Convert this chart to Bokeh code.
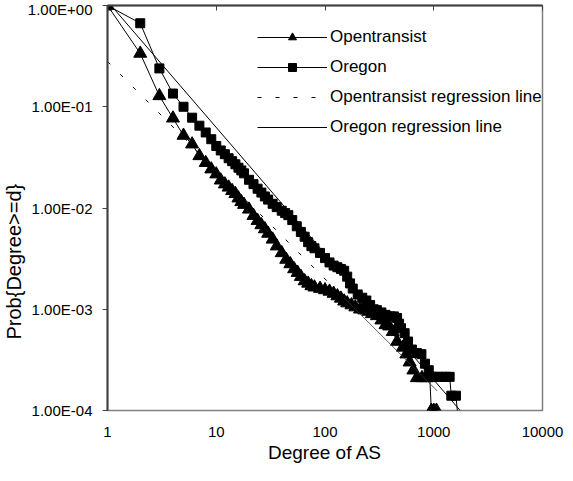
from bokeh.plotting import figure
from bokeh.models import LogAxis, FixedTicker, Legend, LegendItem, Title
from bokeh.embed import file_html
from bokeh.resources import INLINE

# ---------------- data ----------------
ot_deg = [1, 2, 3, 4, 5, 6, 7, 8, 9, 10, 11, 12, 13, 14, 15, 16, 17, 18, 20, 22,
          24, 26, 28, 30, 33, 36, 40, 44, 48, 52, 56, 60, 65, 70, 75, 80, 90, 100,
          110, 120, 130, 140, 150, 160, 175, 190, 210, 230, 250, 270, 300, 330,
          360, 390, 420, 460, 520, 560, 600, 650, 700, 780, 850, 920, 950, 1000, 1060]
ot_prob = [1.0, 0.336, 0.128, 0.077, 0.052, 0.0427, 0.0327, 0.028, 0.0242, 0.0216,
           0.0188, 0.0172, 0.016, 0.0148, 0.0138, 0.0125, 0.0115, 0.0108, 0.0097,
           0.0084, 0.0075, 0.0068, 0.0062, 0.0056, 0.0049, 0.0042, 0.0036, 0.0031,
           0.0028, 0.0025, 0.0023, 0.0021, 0.0019, 0.0018, 0.0017, 0.00165, 0.0016,
           0.00155, 0.0015, 0.00143, 0.00135, 0.00128, 0.0012, 0.00115, 0.0011,
           0.00105, 0.001, 0.00098, 0.00095, 0.0009, 0.00086, 0.00078, 0.0007,
           0.00068, 0.0006, 0.00048, 0.00042, 0.00036, 0.0003, 0.00025, 0.00021,
           0.00021, 0.00021, 0.00021, 0.0001, 0.0001, 0.0001]

or_deg = [1, 2, 3, 4, 5, 6, 7, 8, 9, 10, 11, 12, 13, 14, 15, 16, 17, 18, 20, 22,
          24, 26, 28, 30, 33, 36, 40, 43, 46, 50, 55, 60, 65, 70, 75, 80, 90, 100,
          110, 120, 130, 140, 150, 160, 170, 180, 200, 220, 240, 260, 280, 300, 330,
          360, 400, 430, 460, 480, 500, 540, 580, 630, 700, 770, 830, 900, 950, 1000,
          1100, 1200, 1300, 1400, 1450, 1600, 1720]
or_prob = [1.0, 0.668, 0.239, 0.135, 0.1, 0.078, 0.065, 0.0557, 0.0478, 0.041, 0.037,
           0.034, 0.031, 0.029, 0.027, 0.025, 0.0235, 0.022, 0.019, 0.0172, 0.0155,
           0.0142, 0.013, 0.0121, 0.011, 0.0102, 0.0094, 0.0089, 0.0085, 0.0076,
           0.0066, 0.0058, 0.0052, 0.0046, 0.0042, 0.004, 0.0036, 0.0032, 0.0029,
           0.0027, 0.0026, 0.0025, 0.0024, 0.0021, 0.0018, 0.0016, 0.0014, 0.0013,
           0.00122, 0.0011, 0.001, 0.00098, 0.00093, 0.00088, 0.00085, 0.00085,
           0.00082, 0.00072, 0.00065, 0.00058, 0.00048, 0.0004, 0.00037, 0.00036,
           0.00029, 0.00025, 0.000215, 0.000215, 0.000215, 0.000215, 0.000215,
           0.000215, 0.00014, 0.00014, 0.00006]

ot_reg_deg = [1, 150, 1070]
ot_reg_prob = [0.28, 0.00129, 0.000157]
or_reg_deg = [1, 1750]
or_reg_prob = [1.1, 0.0001]

x_ticks = [1, 10, 100, 1000, 10000]
x_tick_labels = ["1", "10", "100", "1000", "10000"]
y_ticks = [0.0001, 0.001, 0.01, 0.1, 1.0]
y_tick_labels = ["1.00E-04", "1.00E-03", "1.00E-02", "1.00E-01", "1.00E+00"]

series_names = ["Opentransist", "Oregon", "Opentransist regression line",
                "Oregon regression line"]
x_title = "Degree of AS"
y_title = "Prob{Degree>=d}"

FONT = "Liberation Sans"
DARK = "#404040"

p = figure(width=565, height=465, x_axis_type="log", y_axis_type="log",
           x_range=(1, 10000), y_range=(0.0001, 1.0),
           output_backend="svg", toolbar_location=None,
           min_border_left=104, min_border_right=23, min_border_top=5,
           min_border_bottom=55)
p.grid.visible = False
p.outline_line_color = "#808080"
p.outline_line_width = 1.5
p.background_fill_color = "white"

# bottom axis: labels only
xa = p.below[0]
xa.ticker = FixedTicker(ticks=x_ticks)
xa.major_label_overrides = dict(zip(x_ticks, x_tick_labels))
xa.axis_line_color = None
xa.major_tick_line_color = None
xa.minor_tick_line_color = None
xa.major_tick_out = 0
xa.minor_tick_out = 0
xa.major_tick_in = 0
xa.minor_tick_in = 0
xa.major_label_standoff = 16
xa.major_label_text_font = FONT
xa.major_label_text_font_size = "15px"
xa.major_label_text_color = "black"

# top border with inward ticks
top = LogAxis(ticker=FixedTicker(ticks=x_ticks), major_tick_in=5, major_tick_out=0,
              minor_tick_in=0, minor_tick_out=0,
              minor_tick_line_color=None, axis_line_color=DARK, axis_line_width=2,
              major_tick_line_color=DARK, major_label_text_font_size="0px",
              major_label_standoff=0)
top.major_label_overrides = dict(zip(x_ticks, ["", "", "", "", ""]))
p.add_layout(top, "above")

ya = p.left[0]
ya.ticker = FixedTicker(ticks=y_ticks)
ya.major_label_overrides = dict(zip(y_ticks, y_tick_labels))
ya.axis_line_color = DARK
ya.axis_line_width = 2
ya.major_tick_out = 5
ya.major_tick_in = 0
ya.minor_tick_out = 0
ya.minor_tick_in = 0
ya.major_tick_line_color = DARK
ya.minor_tick_line_color = None
ya.major_label_standoff = 10
ya.major_label_text_font = FONT
ya.major_label_text_font_size = "15px"
ya.major_label_text_color = "black"

r_ot_line = p.line(ot_deg, ot_prob, line_color="black", line_width=1)
r_ot_pts = p.scatter(ot_deg, ot_prob, marker="triangle", size=13,
                     fill_color="black", line_color="black")
r_or_line = p.line(or_deg, or_prob, line_color="black", line_width=1)
r_or_pts = p.scatter(or_deg, or_prob, marker="square", size=9,
                     fill_color="black", line_color="black")
r_otreg = p.line(ot_reg_deg[:2], ot_reg_prob[:2], line_color="black", line_width=1,
                 line_dash="4 14")
p.line(ot_reg_deg[1:], ot_reg_prob[1:], line_color="#333333", line_width=0.8)
r_orreg = p.line(or_reg_deg, or_reg_prob, line_color="black", line_width=1)

legend = Legend(items=[
    LegendItem(label=series_names[0], renderers=[r_ot_line, r_ot_pts]),
    LegendItem(label=series_names[1], renderers=[r_or_line, r_or_pts]),
    LegendItem(label=series_names[2], renderers=[r_otreg]),
    LegendItem(label=series_names[3], renderers=[r_orreg]),
], location=(150, 273), glyph_width=70, glyph_height=20, label_height=20,
    spacing=10, padding=4, margin=0, label_standoff=3,
    border_line_color=None, background_fill_alpha=0,
    label_text_font=FONT, label_text_font_size="17px", label_text_color="black")
p.add_layout(legend)

p.add_layout(Title(text=y_title, align="left", offset=71, standoff=0,
                   text_font=FONT, text_font_size="20px", text_font_style="normal",
                   text_color="black"), "left")
p.add_layout(Title(text=x_title, align="center", standoff=0,
                   text_font=FONT, text_font_size="19px", text_font_style="normal",
                   text_color="black"), "below")

open("out.html", "w").write(file_html(p, INLINE))
